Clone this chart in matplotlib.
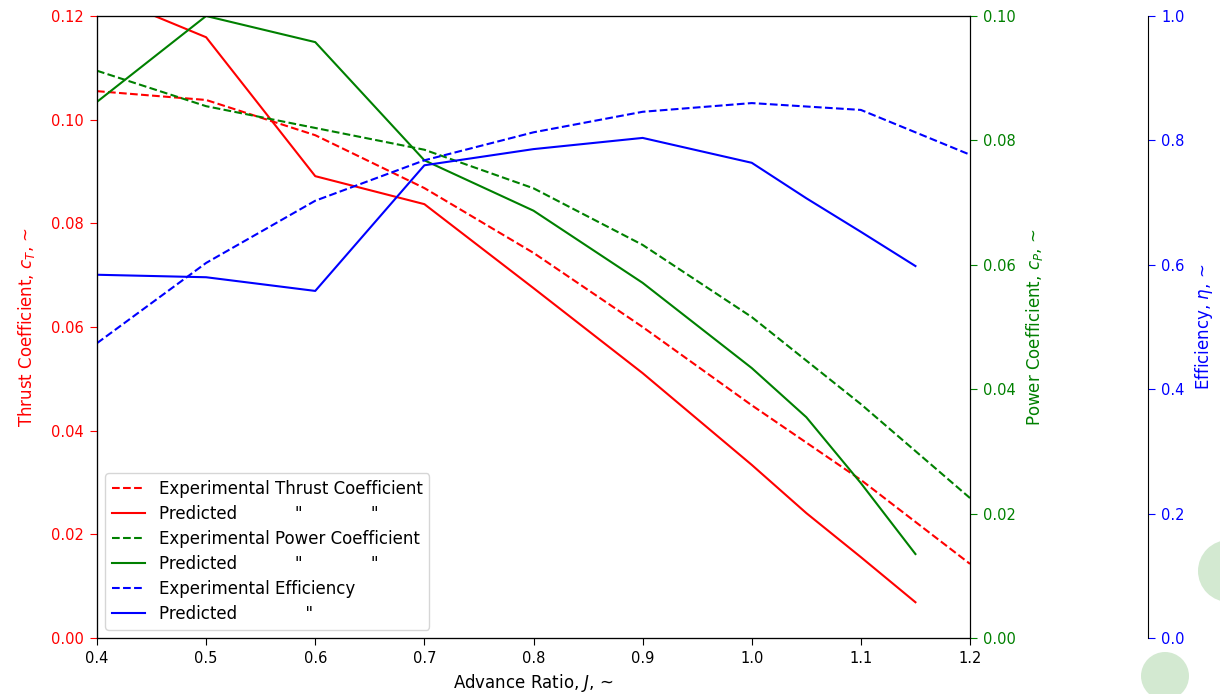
import matplotlib
matplotlib.use("Agg")
import matplotlib.pyplot as plt
from matplotlib.patches import Ellipse

# Advance ratio
j_exp = [0.4, 0.5, 0.6, 0.7, 0.8, 0.9, 1.0, 1.1, 1.2]
j_pred = [0.4, 0.5, 0.6, 0.7, 0.8, 0.9, 1.0, 1.05, 1.1, 1.15]

# Thrust coefficient
ct_exp = [0.1055, 0.1038, 0.0970, 0.0868, 0.0743, 0.0600, 0.0449, 0.0305, 0.0143]
ct_pred = [0.1246, 0.1159, 0.0891, 0.0837, 0.0675, 0.0511, 0.0334, 0.0241, 0.0156, 0.0069]

# Power coefficient
cp_exp = [0.0912, 0.0855, 0.0820, 0.0785, 0.0723, 0.0632, 0.0516, 0.0376, 0.0225]
cp_pred = [0.0862, 0.1000, 0.0958, 0.0768, 0.0687, 0.0571, 0.0434, 0.0355, 0.0249, 0.0135]

# Efficiency
eta_exp = [0.474, 0.603, 0.703, 0.768, 0.813, 0.846, 0.860, 0.849, 0.777]
eta_pred = [0.584, 0.580, 0.558, 0.760, 0.786, 0.804, 0.764, 0.707, 0.653, 0.598]

labels = [
    "Experimental Thrust Coefficient",
    'Predicted           "             "',
    "Experimental Power Coefficient",
    'Predicted           "             "',
    "Experimental Efficiency",
    'Predicted             "',
]

fig = plt.figure(figsize=(12.2, 6.94), dpi=100)
ax = fig.add_axes([97 / 1220, 1 - 638 / 694, 873 / 1220, 622 / 694])
ax2 = ax.twinx()
ax3 = ax.twinx()
ax3.spines["right"].set_position(("axes", (1148 - 97) / 873))

l1, = ax.plot(j_exp, ct_exp, "r--", label=labels[0])
l2, = ax.plot(j_pred, ct_pred, "r-", label=labels[1])
l3, = ax2.plot(j_exp, cp_exp, "g--", label=labels[2])
l4, = ax2.plot(j_pred, cp_pred, "g-", label=labels[3])
l5, = ax3.plot(j_exp, eta_exp, "b--", label=labels[4])
l6, = ax3.plot(j_pred, eta_pred, "b-", label=labels[5])

ax.set_xlim(0.4, 1.2)
ax.set_ylim(0, 0.12)
ax2.set_ylim(0, 0.10)
ax3.set_ylim(0, 1.0)

ax.set_xlabel("Advance Ratio, $J$, ~", fontsize=12)
ax.set_ylabel("Thrust Coefficient, $c_T$, ~", color="red", fontsize=12, labelpad=10)
ax2.set_ylabel("Power Coefficient, $c_P$, ~", color="green", fontsize=12, labelpad=6)
ax3.set_ylabel("Efficiency, $\\eta$, ~", color="blue", fontsize=12, labelpad=6)

for a in (ax, ax2, ax3):
    a.tick_params(length=4.7, pad=4.8, labelsize=10.5)
ax.tick_params(axis="y", colors="red")
ax2.tick_params(axis="y", colors="green")
ax3.tick_params(axis="y", colors="blue")

ax.legend(handles=[l1, l2, l3, l4, l5, l6], loc="lower left", fontsize=12,
          labelspacing=0.42)

fig.patches.append(Ellipse((1229 / 1220, 1 - 571 / 694), 62 / 1220, 62 / 694,
                           transform=fig.transFigure, facecolor="#d3e9d1",
                           edgecolor="none", zorder=0))
fig.patches.append(Ellipse((1165 / 1220, 1 - 676 / 694), 48 / 1220, 48 / 694,
                           transform=fig.transFigure, facecolor="#d3e9d1",
                           edgecolor="none", zorder=0))

fig.savefig("out.png", dpi=100)
